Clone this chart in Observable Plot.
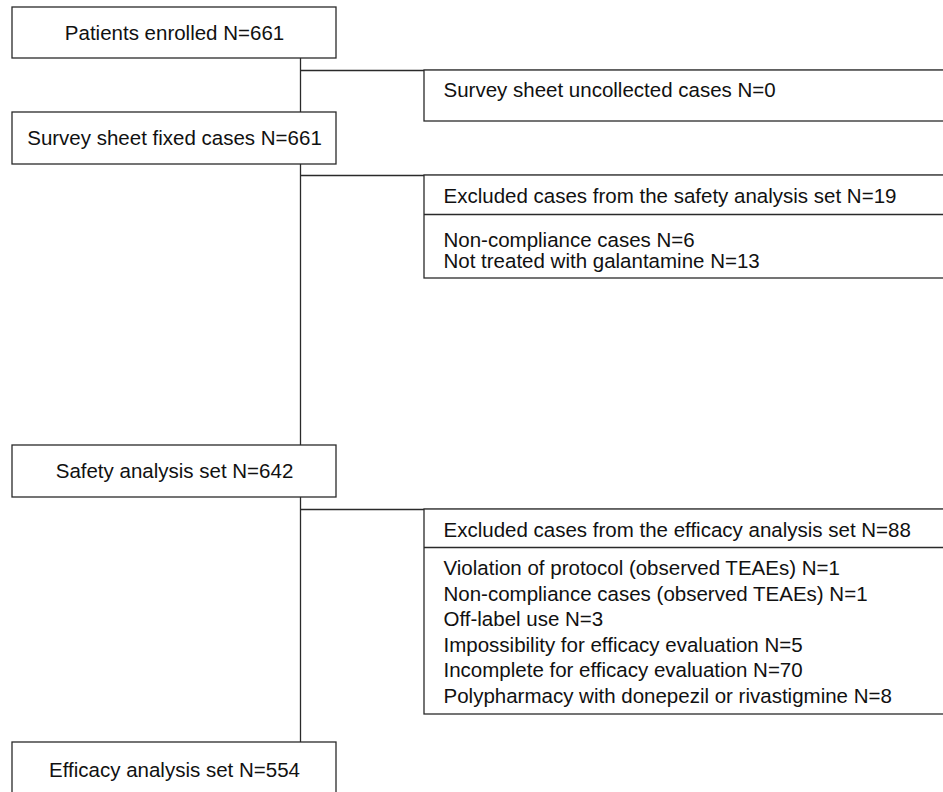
<!DOCTYPE html>
<html>
<head>
<meta charset="utf-8">
<script src="https://cdn.jsdelivr.net/npm/d3@7"></script>
<script src="https://cdn.jsdelivr.net/npm/@observablehq/plot@0.6"></script>
<style>
  html, body { margin: 0; padding: 0; background: #fff; }
  #chart { width: 943px; height: 792px; overflow: hidden; }
</style>
</head>
<body>
<div id="chart"></div>
<script>
// ---- Data ----
const stageLabels = ["Patients enrolled", "Survey sheet fixed cases", "Safety analysis set", "Efficacy analysis set"];
const stageN = [661, 661, 642, 554];

const exclusionLabels = ["Survey sheet uncollected cases", "Excluded cases from the safety analysis set", "Excluded cases from the efficacy analysis set"];
const exclusionN = [0, 19, 88];

const safetyReasonLabels = ["Non-compliance cases", "Not treated with galantamine"];
const safetyReasonN = [6, 13];

const efficacyReasonLabels = [
  "Violation of protocol (observed TEAEs)",
  "Non-compliance cases (observed TEAEs)",
  "Off-label use",
  "Impossibility for efficacy evaluation",
  "Incomplete for efficacy evaluation",
  "Polypharmacy with donepezil or rivastigmine"
];
const efficacyReasonN = [1, 1, 3, 5, 70, 8];

// ---- Layout (page geometry, kept apart from the data) ----
const W = 943, H = 792;
const layout = {
  leftX1: 12, leftX2: 336, spineX: 300,
  rightX1: 424, rightX2: 960, branchX2: 943,
  stageTop: [7, 112, 445, 742],
  stageBottom: [58, 164, 497, 797],
  branchY: [70, 175, 509],
  branchBottom: [121, 278, 714],
  dividerY: [null, 214, 547],
  textX: 443,
  headerY: [90.3, 196, 529.7],
  reasonStart: [null, 239.6, 568],
  reasonStep: [null, 21.2, 25.5]
};

const stages = stageLabels.map((s, i) => ({
  label: `${s} N=${stageN[i]}`,
  x1: layout.leftX1, x2: layout.leftX2,
  y1: layout.stageTop[i], y2: layout.stageBottom[i]
}));

const branches = exclusionLabels.map((s, i) => ({
  label: `${s} N=${exclusionN[i]}`,
  x1: layout.rightX1, x2: layout.rightX2,
  y1: layout.branchY[i], y2: layout.branchBottom[i],
  ty: layout.headerY[i]
}));

const dividers = layout.dividerY.map((y, i) => ({y, i})).filter(d => d.y != null);

const reasons = [];
[[safetyReasonLabels, safetyReasonN, 1], [efficacyReasonLabels, efficacyReasonN, 2]].forEach(([labs, ns, bi]) => {
  labs.forEach((l, j) => reasons.push({
    label: `${l} N=${ns[j]}`,
    y: layout.reasonStart[bi] + j * layout.reasonStep[bi]
  }));
});

// spine segments between stage boxes
const spine = stages.slice(0, -1).map((s, i) => ({y1: s.y2, y2: stages[i + 1].y1}));

const ink = "#2a2a2a";
const textInk = "#111";
const fs = 20.5;

const chart = Plot.plot({
  width: W,
  height: H,
  margin: 0,
  x: {domain: [0, W], range: [0, W], axis: null},
  y: {domain: [0, H], range: [0, H], axis: null},
  style: {fontFamily: "'Liberation Sans', Arial, sans-serif", background: "#fff"},
  marks: [
    Plot.ruleX(spine, {x: layout.spineX, y1: "y1", y2: "y2", stroke: ink, strokeWidth: 1.3}),
    Plot.ruleY(layout.branchY, {y: d => d, x1: layout.spineX, x2: layout.branchX2, stroke: ink, strokeWidth: 1.3}),
    Plot.rect(stages, {x1: "x1", x2: "x2", y1: "y1", y2: "y2", fill: "white", stroke: ink, strokeWidth: 1.3}),
    Plot.rect(branches, {x1: "x1", x2: "x2", y1: "y1", y2: "y2", fill: "white", stroke: ink, strokeWidth: 1.3}),
    Plot.ruleY(dividers, {y: "y", x1: layout.rightX1, x2: layout.branchX2, stroke: ink, strokeWidth: 1.3}),
    Plot.text(stages, {x: d => (d.x1 + d.x2) / 2, y: d => (d.y1 + Math.min(d.y2, d.y1 + 55)) / 2, text: "label", fontSize: fs, fill: textInk, textAnchor: "middle"}),
    Plot.text(branches, {x: layout.textX, y: "ty", text: "label", fontSize: fs, fill: textInk, textAnchor: "start"}),
    Plot.text(reasons, {x: layout.textX, y: "y", text: "label", fontSize: fs, fill: textInk, textAnchor: "start"})
  ]
});

document.getElementById("chart").appendChild(chart);
</script>
</body>
</html>
